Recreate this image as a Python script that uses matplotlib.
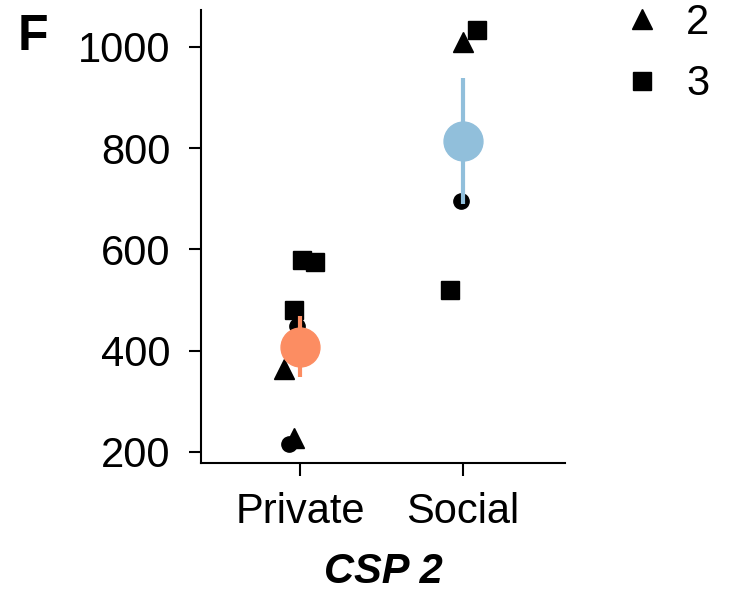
import matplotlib

matplotlib.use("Agg")
import matplotlib.pyplot as plt
from matplotlib.lines import Line2D

plt.rcParams["font.family"] = ["Liberation Sans", "DejaVu Sans"]

conditions = ["Private", "Social"]
cond_means = [408, 814]
cond_errors = [60, 125]
cond_colors = ["#fc8d62", "#91bfdb"]

# individual subjects: condition index, jitter, value, shape group
point_cond = [0, 0, 0, 0, 0, 0, 0, 1, 1, 1, 1]
point_jitter = [0.01, 0.09, -0.04, -0.02, -0.10, -0.04, -0.07, 0.0, 0.09, -0.01, -0.08]
point_values = [580, 575, 481, 449, 364, 228, 216, 1010, 1034, 695, 519]
point_group = [3, 3, 3, 1, 2, 2, 1, 2, 3, 1, 3]

group_markers = {1: "o", 2: "^", 3: "s"}
group_sizes = {1: 11, 2: 14, 3: 13}

fig = plt.figure(figsize=(7.51, 6.10), dpi=100)
ax = fig.add_axes([0.2676, 0.241, 0.4847, 0.7426])

for c, j, v, g in zip(point_cond, point_jitter, point_values, point_group):
    ax.plot(c + 1 + j, v, marker=group_markers[g], color="black",
            markersize=group_sizes[g], linestyle="none", zorder=2)

for i, (m, e, col) in enumerate(zip(cond_means, cond_errors, cond_colors)):
    ax.errorbar(i + 1, m, yerr=e, fmt="o", color=col, markersize=28,
                elinewidth=3, capsize=0, zorder=3)

ax.set_xlim(0.39, 2.63)
ax.set_ylim(178, 1073)
ax.set_xticks([1, 2])
ax.set_xticklabels(conditions)
ax.set_yticks([200, 400, 600, 800, 1000])
ax.tick_params(labelsize=30, length=9, width=1.5, direction="out")
ax.tick_params(axis="y", pad=13)
ax.tick_params(axis="x", pad=12)
for side in ["top", "right"]:
    ax.spines[side].set_visible(False)
for side in ["left", "bottom"]:
    ax.spines[side].set_linewidth(1.5)

ax.set_xlabel("CSP 2", fontsize=30, fontweight="bold", fontstyle="italic", labelpad=14)
fig.text(0.044, 0.94, "F", fontsize=36, fontweight="bold", ha="center", va="center")

handles = [Line2D([], [], marker=group_markers[g], color="black", linestyle="none",
                  markersize=group_sizes[g]) for g in (2, 3)]
fig.legend(handles, ["2", "3"], loc="upper left", bbox_to_anchor=(0.7776, 1.057),
           frameon=False, fontsize=30, labelspacing=0.52, handlelength=1.0,
           handletextpad=0.55, borderpad=0.4)

fig.savefig("out.png", dpi=100)
